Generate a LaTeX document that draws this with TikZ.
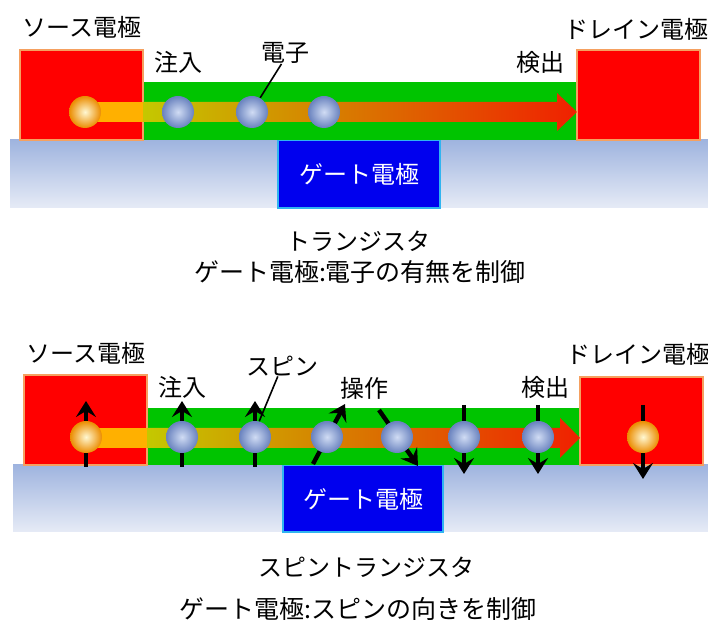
\documentclass[tikz,border=0pt]{standalone}
\usepackage{fontspec}
\newfontfamily\jpfont{Noto Sans CJK JP}
\usetikzlibrary{arrows.meta}
\definecolor{elecred}{HTML}{FF0000}
\definecolor{elecedge}{HTML}{F5A060}
\definecolor{chgreen}{HTML}{00C400}
\definecolor{gateblue}{HTML}{0000EE}
\definecolor{gateedge}{HTML}{30B4F0}
\definecolor{subtop}{HTML}{9FB4DF}
\definecolor{subbot}{HTML}{E6EBF6}
\definecolor{bandorange}{HTML}{FFB000}
\definecolor{bandolive}{HTML}{C4C800}
\definecolor{bandbrown}{HTML}{A06A00}
\definecolor{bandred}{HTML}{F02000}

\begin{document}
\begin{tikzpicture}[x=0.5pt,y=-0.5pt,
  every node/.style={font=\jpfont\fontsize{12}{14}\selectfont,inner sep=0pt},
  electrode/.style={fill=elecred,draw=elecedge,line width=1pt},
  channel/.style={fill=chgreen},
  gatebox/.style={fill=gateblue,draw=gateedge,line width=1pt},
  substrate/.style={top color=subtop,bottom color=subbot},
  band/.style={left color=bandolive,middle color=bandbrown,right color=bandred},
  bball/.style={circle,minimum size=16pt,inner color={rgb,255:red,208;green,220;blue,244},outer color={rgb,255:red,105;green,130;blue,190}},
  oball/.style={circle,minimum size=16pt,inner color={rgb,255:red,255;green,248;blue,210},outer color={rgb,255:red,235;green,140;blue,0}},
  spin/.style={line width=2.2pt,-{Stealth[length=8pt,width=10pt,inset=3pt]}},
  leader/.style={line width=0.8pt},
  caption/.style={font=\jpfont\fontsize{12.5}{15}\selectfont}]
\useasboundingbox (0,0) rectangle (708,624);

% --- transistor ---
\shade[substrate] (10,140) rectangle (708,208);
\draw[gatebox] (278,140) rectangle (440,208);
\fill[channel] (143,82) rectangle (577,140);
\draw[electrode] (20,50) rectangle (143,140);
\draw[electrode] (577,50) rectangle (700,140);
\fill[bandorange] (85,102) rectangle (145,122);
\shade[band] (143,102) -- (557,102) -- (557,93) -- (577,112) -- (557,131) -- (557,122) -- (143,122) -- cycle;
\node[oball] (eA0) at (85,112) {};
\node[bball] (eA1) at (178,112) {};
\node[bball] (eA2) at (252,112) {};
\node[bball] (eA3) at (324,112) {};
\node[text=white] (gateA) at (359,174) {ゲート電極};
\node (srcA) at (82,27) {ソース電極};
\node (drnA) at (636,29) {ドレイン電極};
\node (injA) at (178,62) {注入};
\node (elecA) at (285,53) {電子};
\node (detA) at (540,62) {検出};
\draw[leader] (elecA.-108) -- (eA2.60);
\node (titleA) at (358,241) {トランジスタ};
\node[caption] (capA) at (360,272) {ゲート電極:電子の有無を制御};

% --- spin transistor ---
\shade[substrate] (13,465) rectangle (708,532);
\draw[gatebox] (283,465) rectangle (443,532);
\fill[channel] (147,408) rectangle (580,465);
\draw[electrode] (24,375) rectangle (147,465);
\draw[electrode] (580,377) rectangle (703,465);
\fill[bandorange] (86,428) rectangle (149,448);
\shade[band] (147,428) -- (560,428) -- (560,418) -- (580,438) -- (560,458) -- (560,448) -- (147,448) -- cycle;
\coordinate (pB0) at (86,437);
\coordinate (pB1) at (182,437);
\coordinate (pB2) at (255,437);
\coordinate (pB3) at (327,437);
\coordinate (pB4) at (397,437);
\coordinate (pB5) at (464,437);
\coordinate (pB6) at (538,437);
\coordinate (pB7) at (643,437);
\draw[spin] (pB0) ++(0,30) -- ++(0,-66);
\draw[spin] (pB1) ++(0,30) -- ++(0,-66);
\draw[spin] (pB2) ++(0,30) -- ++(0,-66);
\draw[spin] (pB3) ++(-14,27) -- ++(32,-60);
\draw[spin] (pB4) ++(-18,-27) -- ++(39,56);
\draw[spin] (pB5) ++(0,-32) -- ++(0,69);
\draw[spin] (pB6) ++(0,-32) -- ++(0,69);
\draw[spin] (pB7) ++(0,-32) -- ++(0,74);
\node[oball] (sB0) at (pB0) {};
\node[bball] (sB1) at (pB1) {};
\node[bball] (sB2) at (pB2) {};
\node[bball] (sB3) at (pB3) {};
\node[bball] (sB4) at (pB4) {};
\node[bball] (sB5) at (pB5) {};
\node[bball] (sB6) at (pB6) {};
\node[oball] (sB7) at (pB7) {};
\node[text=white] (gateB) at (363,499) {ゲート電極};
\node (srcB) at (86,353) {ソース電極};
\node (drnB) at (638,354) {ドレイン電極};
\node (injB) at (182,387) {注入};
\node (spinB) at (282,366) {スピン};
\node (opB) at (364,388) {操作};
\node (detB) at (545,387) {検出};
\draw[leader] (spinB.-112) -- (sB2.75);
\node (titleB) at (366,567) {スピントランジスタ};
\node[caption] (capB) at (358,609) {ゲート電極:スピンの向きを制御};
\end{tikzpicture}
\end{document}
